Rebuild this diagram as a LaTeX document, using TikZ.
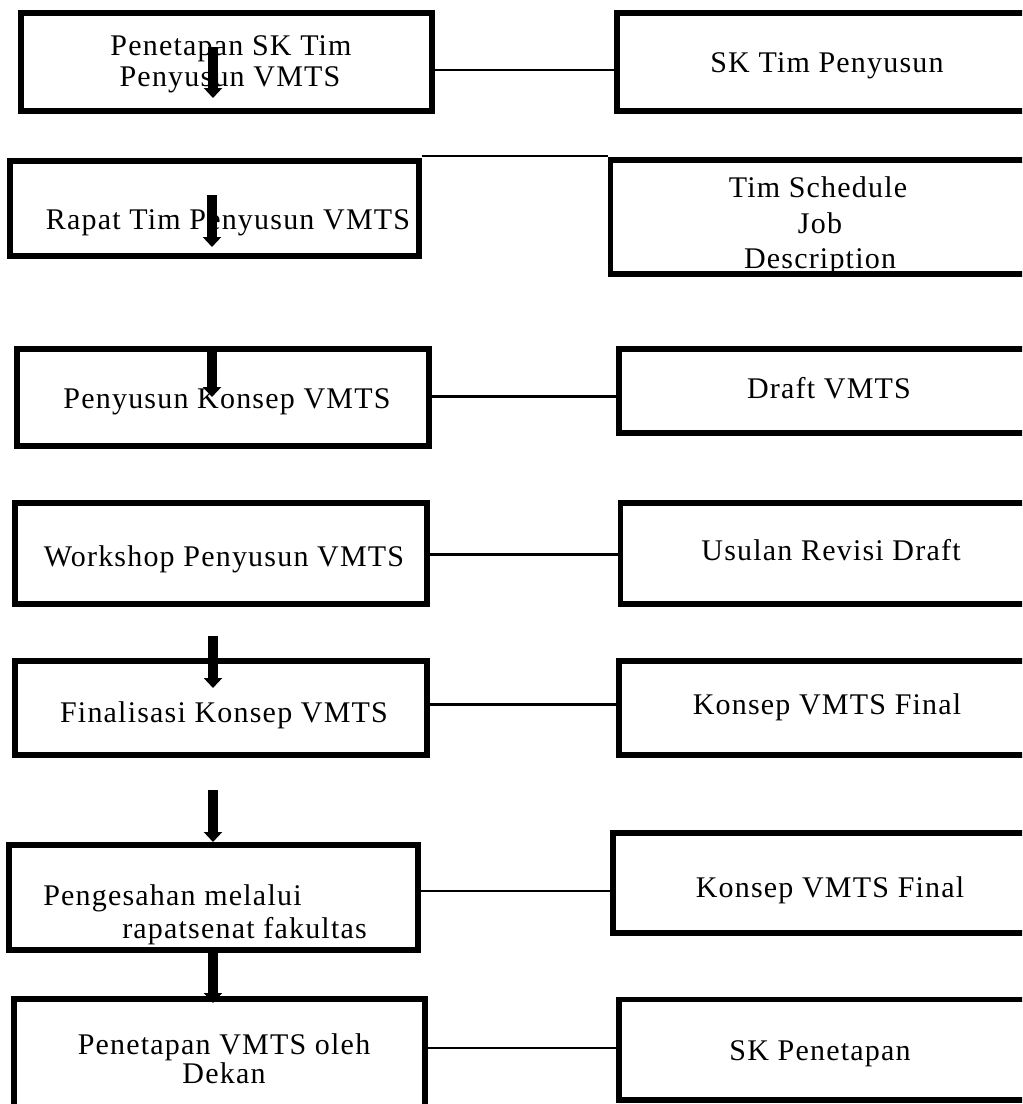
\documentclass[tikz,border=0pt]{standalone}
\usepackage{fontspec}
\setmainfont{Liberation Serif}[LetterSpace=4]
\usetikzlibrary{arrows.meta}
\begin{document}
\begin{tikzpicture}[x=0.75pt,y=-0.75pt,
  bx/.style 2 args={draw=black,line width=4.1pt,rectangle,inner sep=0pt,
     minimum width=#1*0.75pt,minimum height=#2*0.75pt},
  txt/.style={font=\fontsize{22.5pt}{26pt}\selectfont,inner sep=0pt,anchor=base},
  txtw/.style={txt,anchor=base west},
  link/.style={line width=#1*0.75pt},
  flow/.style={line width=7.5pt,-{Triangle[width=13.5pt,length=7.5pt]}}]
\useasboundingbox (0,0) rectangle (1022,1104);
\clip (0,0) rectangle (1022,1104);
% left boxes
\node[bx={411}{98}]  (L1) at (226.5,62) {};
\node[bx={409}{95}]  (L2) at (214.5,208.5) {};
\node[bx={412}{97}]  (L3) at (223,397.5) {};
\node[bx={412}{101}] (L4) at (221,553.5) {};
\node[bx={412}{94}]  (L5) at (221,708) {};
\node[bx={409}{105}] (L6) at (213.5,897.5) {};
\node[bx={411}{117}] (L7) at (219.5,1057.5) {};
% right boxes
\node[bx={419}{98}]    (R1) at (826.5,62) {};
\node[bx={425.5}{114}] (R2) at (823.25,217) {};
\node[bx={417}{84}]    (R3) at (827.5,391) {};
\node[bx={415.5}{101}] (R4) at (828.25,553.5) {};
\node[bx={417}{94}]    (R5) at (827.5,708) {};
\node[bx={423}{100}]   (R6) at (824.5,883) {};
\node[bx={417}{100.5}] (R7) at (827.5,1049.75) {};
% texts
\node[txt] (t1a) at (231,55) {Penetapan SK Tim};
\node[txt] (t1b) at (230,86) {Penyusun VMTS};
\node[txt] (t2) at (228,229) {Rapat Tim Penyusun VMTS};
\node[txt] (t3) at (227,408) {Penyusun Konsep VMTS};
\node[txt] (t4) at (224,566) {Workshop Penyusun VMTS};
\node[txt] (t5) at (224,722) {Finalisasi Konsep VMTS};
\node[txtw] (t6a) at (43,905) {Pengesahan melalui};
\node[txtw] (t6b) at (122,938) {rapatsenat fakultas};
\node[txt] (t7a) at (224,1054) {Penetapan VMTS oleh};
\node[txt] (t7b) at (224,1083) {Dekan};
\node[txt] (u1) at (827,72) {SK Tim Penyusun};
\node[txt] (u2a) at (818,197) {Tim Schedule};
\node[txt] (u2b) at (820,233) {Job};
\node[txt] (u2c) at (820,268) {Description};
\node[txt] (u3) at (829,398) {Draft VMTS};
\node[txt] (u4) at (831,560) {Usulan Revisi Draft};
\node[txt] (u5) at (827,714) {Konsep VMTS Final};
\node[txt] (u6) at (830,897) {Konsep VMTS Final};
\node[txt] (u7) at (820,1060) {SK Penetapan};
% connectors
\draw[link=2.5] (L1.east |- 0,70) -- (R1.west |- 0,70);
\draw[link=1.5] (L2.north east |- 0,156) -- (R2.north west |- 0,156);
\draw[link=3] (L3.east |- 0,396) -- (R3.west |- 0,396);
\draw[link=3] (L4.east |- 0,554) -- (R4.west |- 0,554);
\draw[link=3] (L5.east |- 0,704) -- (R5.west |- 0,704);
\draw[link=2] (L6.east |- 0,891) -- (R6.west |- 0,891);
\draw[link=2.5] (L7.east |- 0,1048) -- (R7.west |- 0,1048);
% arrows
\coordinate (a1s) at (213,47);   \coordinate (a1e) at (213,98);
\coordinate (a2s) at (212,195);  \coordinate (a2e) at (212,247);
\coordinate (a3s) at (212,350);  \coordinate (a3e) at (212,397);
\coordinate (a5s) at (213,636);  \coordinate (a5e) at (213,688);
\coordinate (a6s) at (213,790);  \coordinate (a6e) at (213,842);
\coordinate (a7s) at (213,953);  \coordinate (a7e) at (213,1003);
\draw[flow] (a1s) -- (a1e);
\draw[flow] (a2s) -- (a2e);
\draw[flow] (a3s) -- (a3e);
\draw[flow] (a5s) -- (a5e);
\draw[flow] (a6s) -- (a6e);
\draw[flow] (a7s) -- (a7e);
\end{tikzpicture}
\end{document}
